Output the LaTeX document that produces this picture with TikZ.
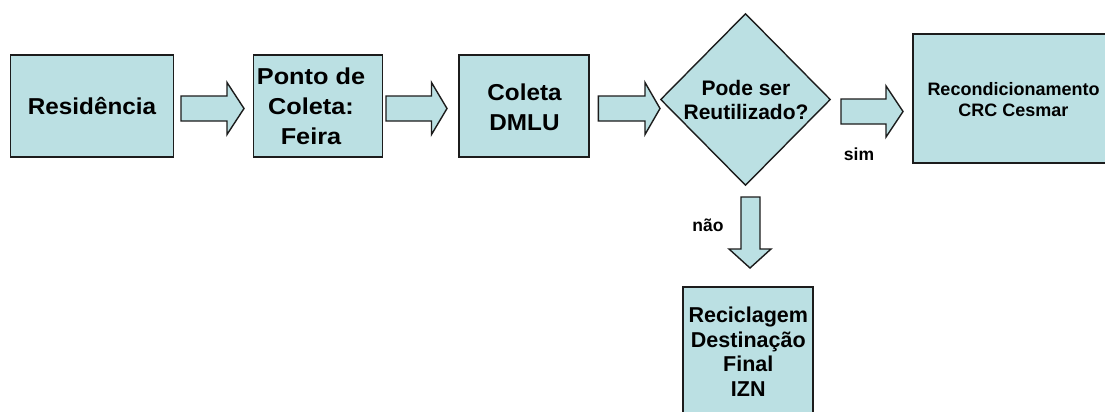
\documentclass[tikz,border=0pt]{standalone}
\usepackage{fontspec}
\setmainfont{Liberation Sans}
\newfontfamily\wideA[FakeStretch=1.055]{Liberation Sans}
\newfontfamily\wideB[FakeStretch=1.1]{Liberation Sans}
\usetikzlibrary{shapes.geometric}
\definecolor{boxfill}{RGB}{187,224,227}
\definecolor{boxline}{RGB}{28,28,28}
\newcommand\harrowshape[4]{% start x, head x, tip x, center y
  \draw[arrowst] (#1,#4-12.5) -- (#2,#4-12.5) -- (#2,#4-26) -- (#3,#4)
    -- (#2,#4+26) -- (#2,#4+12.5) -- (#1,#4+12.5) -- cycle;}
\begin{document}
\begin{tikzpicture}[x=1pt,y=-1pt,
  boxst/.style={draw=boxline, fill=boxfill, line width=1.4pt, inner sep=0pt, align=center},
  arrowst/.style={draw=boxline, fill=boxfill, line width=1.4pt, line join=miter},
  txtA/.style={font=\wideA\bfseries\fontsize{23}{30}\selectfont, align=center, inner sep=0pt, anchor=base},
  txtAB/.style={font=\wideB\bfseries\fontsize{23}{30}\selectfont, align=center, inner sep=0pt, anchor=base},
  txtB/.style={font=\bfseries\fontsize{21}{24.3}\selectfont, align=center, inner sep=0pt, anchor=base},
  txtC/.style={font=\bfseries\fontsize{18}{21}\selectfont, align=center, inner sep=0pt, anchor=base},
  txtD/.style={font=\bfseries\fontsize{21.5}{24.7}\selectfont, align=center, inner sep=0pt, anchor=base},
  lbl/.style={font=\bfseries\fontsize{17.5}{20}\selectfont, inner sep=0pt, anchor=base}]
\clip (0,0) rectangle (1105,412);
\fill[white] (0,0) rectangle (1105,412);
% boxes (text anchors sit on the baseline of the last line)
\node[boxst, minimum width=163pt, minimum height=102pt] (res) at (92,106) {};
\node[txtA] (restxt) at (92,114) {Residência};
\node[boxst, minimum width=129pt, minimum height=102pt] (ponto) at (318,106) {};
\node[txtAB] (pontotxt) at (311,144) {Ponto de\\Coleta:\\Feira};
\node[boxst, minimum width=130pt, minimum height=102pt] (dmlu) at (524,106) {};
\node[txtA] (dmlutxt) at (524.5,130) {Coleta\\DMLU};
\node[diamond, draw=boxline, fill=boxfill, line width=1.4pt, inner sep=0pt,
      minimum width=170pt, minimum height=172pt] (dec) at (745.5,99.5) {};
\node[txtB] (dectxt) at (746,119.3) {Pode ser\\Reutilizado?};
\node[boxst, minimum width=198pt, minimum height=129pt] (crc) at (1012,98.5) {};
\node[txtC] (crctxt) at (1013.5,116) {Recondicionamento\\CRC Cesmar};
\node[boxst, minimum width=130pt, minimum height=134pt] (izn) at (748,354) {};
\node[txtD] (izntxt) at (748.3,396.6) {Reciclagem\\Destinação\\Final\\IZN};
% block arrows
\harrowshape{181}{227}{244}{108.5}
\harrowshape{386}{431.5}{447}{108.5}
\harrowshape{598.3}{645}{660}{108.5}
\draw[arrowst] (841,99) -- (886,99) -- (886,86) -- (903,111.5)
  -- (886,137) -- (886,124) -- (841,124) -- cycle;
\draw[arrowst] (741,197) -- (760,197) -- (760,249) -- (771,249) -- (750,268)
  -- (729,249) -- (741,249) -- cycle;
% labels
\node[lbl] (sim) at (859,160) {sim};
\node[lbl] (nao) at (708,231.5) {não};
\end{tikzpicture}
\end{document}
